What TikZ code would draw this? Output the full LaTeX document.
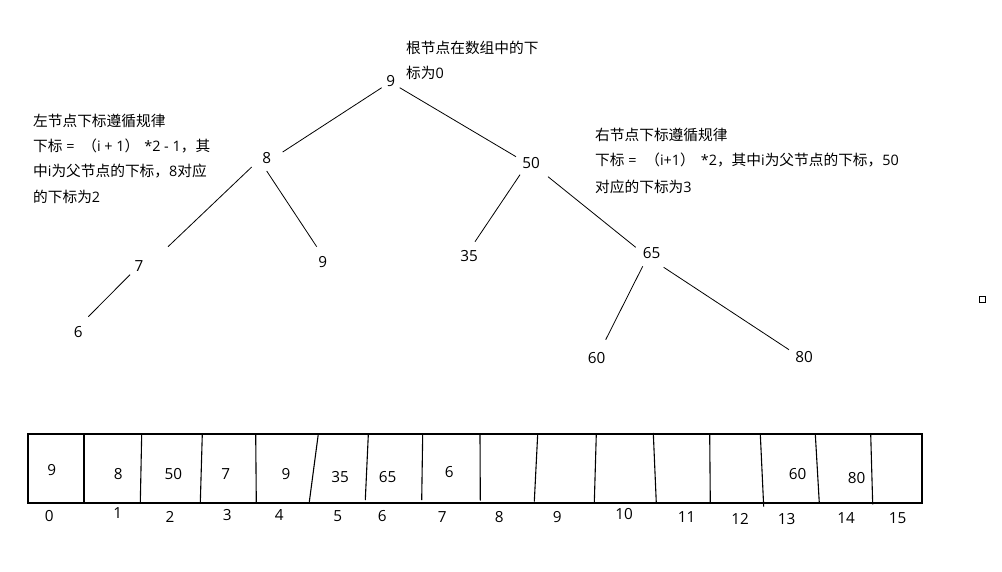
\documentclass[tikz,border=0pt]{standalone}
\usepackage{fontspec}
\newfontfamily\cjk{Noto Sans CJK SC}
\newfontfamily\latfont{Open Sans}
\newcommand\LatRun[1]{{\latfont\fontsize{14.4}{18}\selectfont#1}}
\begin{document}
\begin{tikzpicture}[x=1pt,y=-1pt,
  every node/.style={font=\cjk\fontsize{14.7}{18}\selectfont, inner sep=0pt, text=black},
  txt/.style={anchor=west},
  num/.style={font=\latfont\fontsize{15.3}{18}\selectfont},
  edge/.style={draw=black, line width=0.8pt},
  cell/.style={draw=black, line width=1.1pt}]
\useasboundingbox (0,0) rectangle (1002,571);
\fill[white] (0,0) rectangle (1002,571);

% annotations
\node[txt] (r1) at (406,48) {根节点在数组中的下};
\node[txt] (r2) at (406,73) {标为\LatRun{0}};
\node[txt] (l1) at (33,121) {左节点下标遵循规律};
\node[txt] (l2) at (33,146) {下标\LatRun{ = \hspace{4pt}}（\LatRun{i + 1}）\hspace{5pt}\LatRun{*2 - 1}，其};
\node[txt] (l3) at (33,171) {中\LatRun{i}为父节点的下标，\LatRun{8}对应};
\node[txt] (l4) at (33,197) {的下标为\LatRun{2}};
\node[txt] (g1) at (595,135) {右节点下标遵循规律};
\node[txt] (g2) at (595,160) {下标\LatRun{ = \hspace{5pt}}（\LatRun{i+1}）\hspace{6pt}\LatRun{*2}，其中\LatRun{i}为父节点的下标，\LatRun{50}};
\node[txt] (g3) at (595,187) {对应的下标为\LatRun{3}};

% tree nodes
\node[num] (t0) at (390.7,80.7) {9};
\node[num] (t1) at (266.7,158.5) {8};
\node[num] (t2) at (531,162.7) {50};
\node[num] (t3) at (139,265.7) {7};
\node[num] (t4) at (322.7,261.7) {9};
\node[num] (t5) at (469,255.7) {35};
\node[num] (t6) at (651.7,253.3) {65};
\node[num] (t7) at (78.3,331.7) {6};
\node[num] (t8) at (596.7,357.7) {60};
\node[num] (t9) at (804,356.7) {80};

% tree edges
\draw[edge] ([shift={(-9,7)}]t0.center) -- ([shift={(16,-6.5)}]t1.center);
\draw[edge] ([shift={(9,7)}]t0.center) -- ([shift={(-15,-6)}]t2.center);
\draw[edge] ([shift={(-15,8.5)}]t1.center) -- ([shift={(29,-19)}]t3.center);
\draw[edge] ([shift={(0,12.5)}]t1.center) -- ([shift={(-6,-15)}]t4.center);
\draw[edge] ([shift={(-9,9)}]t3.center) -- ([shift={(10,-15)}]t7.center);
\draw[edge] ([shift={(-11,12)}]t2.center) -- ([shift={(6,-14)}]t5.center);
\draw[edge] ([shift={(17,14)}]t2.center) -- ([shift={(-16,-6)}]t6.center);
\draw[edge] ([shift={(-9,13)}]t6.center) -- ([shift={(9,-18)}]t8.center);
\draw[edge] ([shift={(12,14)}]t6.center) -- ([shift={(-15,-7)}]t9.center);

% array
\draw[cell] (28,434) rectangle (922,503);
\foreach \xa/\ya/\xb/\yb in {84/434/84/502, 141.7/434/140.3/503, 202.3/434/200.3/503,
  255.7/434/256.3/503, 318.3/434/309.3/502, 368.3/435/365.3/500, 422.7/434/421.7/500,
  480/434/480.3/500.7, 537.7/434/534.3/501.7, 596.3/434/594.3/503, 653.3/433/656.3/503,
  709.7/434/710.3/503, 760.3/434/763.7/506.7, 815.3/434/819.3/503, 870.7/434/872.7/504.3}
  \draw[cell] (\xa,\ya) -- (\xb,\yb);

% array values
\node[num] (v0) at (51.7,470) {9};
\node[num] (v1) at (118.3,474) {8};
\node[num] (v2) at (173.3,474) {50};
\node[num] (v3) at (225.7,474) {7};
\node[num] (v4) at (286,474) {9};
\node[num] (v5) at (340,477) {35};
\node[num] (v6) at (387.7,477) {65};
\node[num] (v7) at (449.3,471.7) {6};
\node[num] (v13) at (797.7,474) {60};
\node[num] (v14) at (856.7,478.3) {80};

% indices
\node[num] (i0) at (49.3,515.7) {0};
\node[num] (i1) at (117.7,513.3) {1};
\node[num] (i2) at (170,516.7) {2};
\node[num] (i3) at (227.3,515) {3};
\node[num] (i4) at (279.3,515) {4};
\node[num] (i5) at (337.7,515.7) {5};
\node[num] (i6) at (382.3,515.7) {6};
\node[num] (i7) at (442.3,517.3) {7};
\node[num] (i8) at (499.3,517.3) {8};
\node[num] (i9) at (557.3,517.3) {9};
\node[num] (i10) at (624,514.3) {10};
\node[num] (i11) at (686.7,516.7) {11};
\node[num] (i12) at (740,519) {12};
\node[num] (i13) at (786.7,519) {13};
\node[num] (i14) at (846,517.7) {14};
\node[num] (i15) at (897.7,517.7) {15};

% small square
\draw[line width=1pt] (979.5,296.5) rectangle (985.5,302.5);
\end{tikzpicture}
\end{document}
